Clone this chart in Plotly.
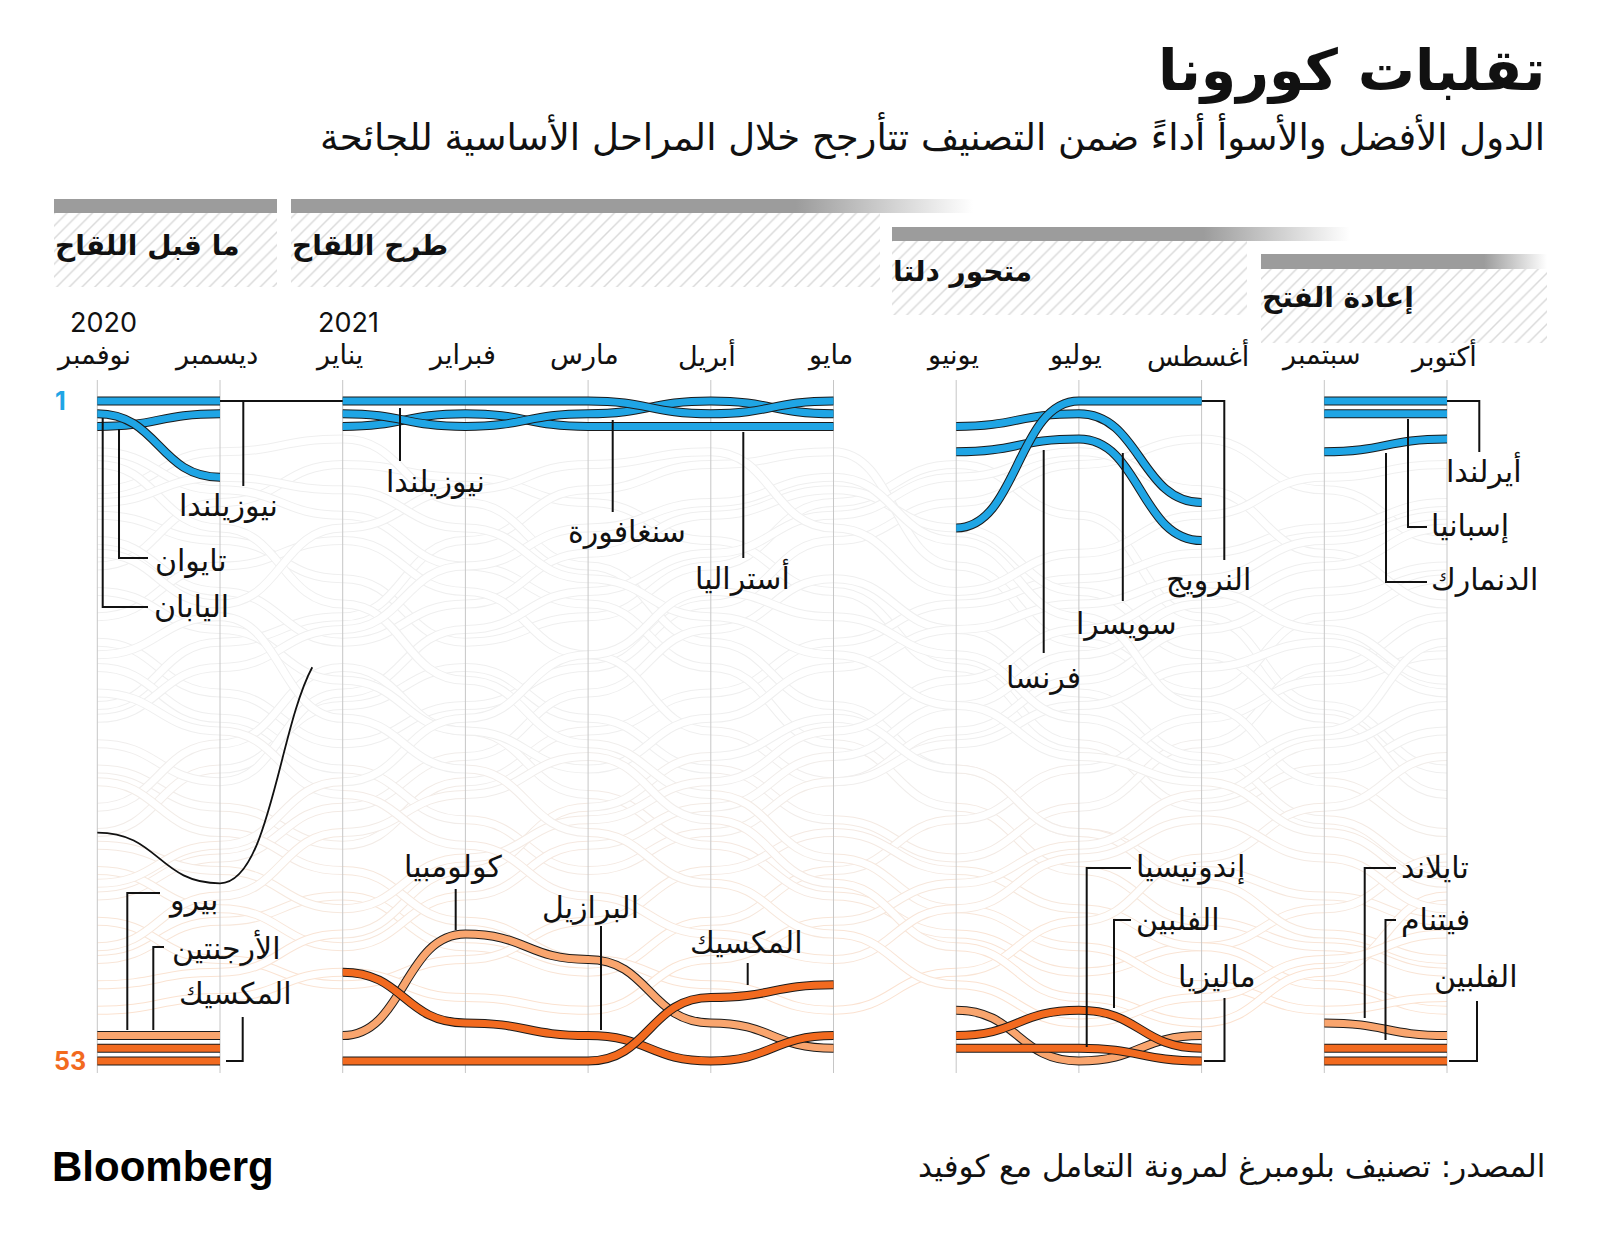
import plotly.graph_objects as go

# ---------------- DATA ----------------
months = ['نوفمبر', 'ديسمبر', 'يناير', 'فبراير', 'مارس', 'أبريل', 'مايو',
          'يونيو', 'يوليو', 'أغسطس', 'سبتمبر', 'أكتوبر']
year_labels = ['2020', '2021']
year_month_idx = [0, 2]
phase_titles = ['ما قبل اللقاح', 'طرح اللقاح', 'متحور دلتا', 'إعادة الفتح']
phase_months = [[0, 1], [2, 3, 4, 5, 6], [7, 8, 9], [10, 11]]

# best three per phase (rank, 1 = best)
p1_top_names = ['نيوزيلندا', 'اليابان', 'تايوان']
p1_top_ranks = [[1, 1], [2, 7], [3, 2]]
p2_top_names = ['نيوزيلندا', 'سنغافورة', 'أستراليا']
p2_top_ranks = [[1, 1, 1, 2, 1], [2, 3, 2, 1, 2], [3, 2, 3, 3, 3]]
p3_top_names = ['النرويج', 'سويسرا', 'فرنسا']
p3_top_ranks = [[11, 1, 1], [3, 2, 9], [5, 4, 12]]
p4_top_names = ['أيرلندا', 'إسبانيا', 'الدنمارك']
p4_top_ranks = [[1, 1], [2, 2], [5, 4]]

# worst three per phase (first one drawn in light orange)
p1_bot_names = ['بيرو', 'الأرجنتين', 'المكسيك']
p1_bot_ranks = [[51, 51], [52, 52], [53, 53]]
p2_bot_names = ['كولومبيا', 'البرازيل', 'المكسيك']
p2_bot_ranks = [[51, 43, 45, 50, 52], [46, 50, 51, 53, 51], [53, 53, 53, 48, 47]]
p3_bot_names = ['ماليزيا', 'الفلبين', 'إندونيسيا']
p3_bot_ranks = [[49, 53, 51], [51, 49, 52], [52, 52, 53]]
p4_bot_names = ['تايلاند', 'فيتنام', 'الفلبين']
p4_bot_ranks = [[50, 51], [52, 52], [53, 53]]

# black trajectory drawn from November
black_line_ranks = [35, 39, 20]

# faint trajectories of the other economies (Nov .. Oct)
other_ranks = [
    [10, 12, 15, 20, 18, 14, 9, 6, 10, 18, 25, 30],
    [14, 9, 6, 7, 9, 12, 16, 22, 28, 33, 30, 27],
    [20, 24, 28, 25, 22, 17, 12, 9, 6, 4, 8, 12],
    [25, 20, 18, 12, 8, 6, 5, 14, 20, 24, 18, 15],
    [30, 33, 36, 31, 27, 24, 20, 17, 15, 13, 11, 9],
    [8, 5, 4, 9, 14, 20, 25, 30, 35, 38, 40, 42],
    [5, 8, 10, 14, 17, 22, 28, 33, 38, 42, 44, 46],
    [35, 30, 25, 22, 26, 30, 34, 37, 33, 28, 22, 18],
    [40, 37, 33, 29, 24, 19, 15, 19, 24, 29, 34, 38],
    [45, 42, 40, 44, 46, 42, 38, 34, 30, 26, 23, 21],
    [12, 16, 20, 17, 13, 10, 8, 11, 16, 21, 26, 32],
    [18, 14, 12, 16, 21, 27, 31, 27, 23, 19, 16, 14],
    [22, 26, 30, 34, 38, 35, 31, 28, 25, 22, 20, 24],
    [28, 31, 24, 19, 16, 13, 10, 7, 5, 8, 13, 17],
    [33, 28, 22, 27, 32, 36, 40, 43, 46, 44, 41, 37],
    [38, 41, 44, 40, 36, 33, 29, 25, 21, 17, 14, 11],
    [42, 45, 47, 45, 42, 38, 35, 38, 41, 44, 47, 49],
    [47, 46, 43, 38, 33, 29, 26, 30, 35, 39, 43, 45],
    [16, 19, 23, 27, 30, 26, 22, 19, 17, 15, 12, 10],
    [6, 11, 17, 23, 28, 32, 37, 41, 44, 47, 49, 48],
    [26, 22, 19, 14, 11, 9, 7, 12, 18, 25, 31, 35],
    [31, 35, 38, 42, 45, 47, 49, 46, 42, 37, 33, 29],
    [36, 38, 41, 37, 34, 31, 27, 23, 19, 16, 19, 23],
    [49, 48, 46, 48, 49, 45, 42, 39, 36, 32, 28, 25],
    [44, 40, 35, 32, 29, 34, 39, 44, 48, 50, 46, 40],
    [13, 17, 11, 8, 6, 5, 11, 16, 13, 10, 7, 6],
    [24, 27, 32, 36, 40, 43, 45, 41, 37, 34, 37, 41],
    [9, 7, 8, 11, 15, 18, 21, 25, 29, 31, 35, 39],
    [39, 36, 31, 26, 21, 16, 18, 21, 26, 30, 27, 20],
    [21, 18, 26, 30, 35, 39, 43, 47, 50, 48, 45, 43],
]

title_text = 'تقلبات كورونا'
subtitle_text = 'الدول الأفضل والأسوأ أداءً ضمن التصنيف تتأرجح خلال المراحل الأساسية للجائحة'
source_text = 'المصدر: تصنيف بلومبرغ لمرونة التعامل مع كوفيد'
brand_text = 'Bloomberg'

# ---------------- LAYOUT GEOMETRY ----------------
W, H = 1600, 1245
PX_PER_M, X0PX = 122.7, 97.3
PX_PER_R, Y1PX = 12.692, 401.0


def X(px):
    return (px - X0PX) / PX_PER_M


def Y(py):
    return 1 + (py - Y1PX) / PX_PER_R


AR = 'DejaVu Sans'
LAT = 'Inter, Roboto, Liberation Sans, sans-serif'
BLUE = '#1fa5e5'
OR_LIGHT = '#f9a56e'
OR_DARK = '#f26a1f'
EDGE = '#1b1b1b'

shapes = []
annotations = []


def bump_path(xs, ys):
    d = 'M%.4f,%.4f' % (xs[0], ys[0])
    for i in range(1, len(xs)):
        xm = (xs[i - 1] + xs[i]) / 2
        d += ' C%.4f,%.4f %.4f,%.4f %.4f,%.4f' % (xm, ys[i - 1], xm, ys[i], xs[i], ys[i])
    return d


def add_path(d, color, width):
    shapes.append(dict(type='path', path=d, xref='x', yref='y',
                       line=dict(color=color, width=width), layer='above'))


def mix(c1, c2, t):
    a = [int(c1[i:i + 2], 16) for i in (1, 3, 5)]
    b = [int(c2[i:i + 2], 16) for i in (1, 3, 5)]
    return '#%02x%02x%02x' % tuple(int(round(a[k] + (b[k] - a[k]) * t)) for k in range(3))


# --- faint background trajectories ---
for ranks in other_ranks:
    for i in range(1, len(ranks)):
        m = (ranks[i - 1] + ranks[i]) / 2
        t = min(max((m - 28) / 20, 0), 1)
        col = mix('#efefef', '#fbe2d0', t)
        d = bump_path([i - 1, i], [ranks[i - 1], ranks[i]])
        add_path(d, col, 9)
        add_path(d, '#ffffff', 7)

# --- vertical month gridlines ---
for i in range(len(months)):
    shapes.append(dict(type='line', xref='x', yref='y', x0=i, x1=i,
                       y0=Y(380), y1=Y(1073),
                       line=dict(color='#c6c6c6', width=1), layer='above'))

# --- black trajectory (cut before January) ---
bl = black_line_ranks
add_path(bump_path([0, 1], bl[:2]), '#111111', 1.8)
t = 0.8
P0, P1, P2, P3 = (1, bl[1]), (1.5, bl[1]), (1.5, bl[2]), (2, bl[2])


def lerp(a, b, s):
    return (a[0] + (b[0] - a[0]) * s, a[1] + (b[1] - a[1]) * s)


A = lerp(P0, P1, t); B = lerp(P1, P2, t); Cc = lerp(P2, P3, t)
D = lerp(A, B, t); E = lerp(B, Cc, t); F = lerp(D, E, t)
add_path('M%.4f,%.4f C%.4f,%.4f %.4f,%.4f %.4f,%.4f' % (P0[0], P0[1], A[0], A[1], D[0], D[1], F[0], F[1]),
         '#111111', 1.8)

# --- highlighted lines ---
tops = [p1_top_ranks, p2_top_ranks, p3_top_ranks, p4_top_ranks]
bots = [p1_bot_ranks, p2_bot_ranks, p3_bot_ranks, p4_bot_ranks]
for ph, mlist in enumerate(phase_months):
    for k, ranks in enumerate(bots[ph]):
        d = bump_path(mlist, ranks)
        add_path(d, EDGE, 9)
        add_path(d, OR_LIGHT if k == 0 else OR_DARK, 7)
    for ranks in tops[ph][::-1]:
        d = bump_path(mlist, ranks)
        add_path(d, EDGE, 9)
        add_path(d, BLUE, 7)

# connector New Zealand Dec -> Jan
shapes.append(dict(type='line', xref='x', yref='y', x0=1, x1=2, y0=1, y1=1,
                   line=dict(color='#111111', width=2), layer='above'))

# --- leader lines (pixel positions) ---
leaders = [
    [(243.3, 401), (243.3, 486)],
    [(119, 429), (119, 558), (148, 558)],
    [(102.7, 418), (102.7, 607), (148, 607)],
    [(127.3, 1030), (127.3, 893), (160, 893)],
    [(153.3, 1030), (153.3, 947), (164, 947)],
    [(242.7, 1017), (242.7, 1061), (226, 1061)],
    [(400, 408), (400, 461)],
    [(612.7, 420), (612.7, 512)],
    [(743.3, 432), (743.3, 558)],
    [(455.7, 889), (455.7, 930)],
    [(601, 926), (601, 1030)],
    [(747.7, 963), (747.7, 985)],
    [(1202, 401), (1224.3, 401), (1224.3, 560)],
    [(1122.8, 453), (1122.8, 601)],
    [(1043.7, 450), (1043.7, 653)],
    [(1086.7, 1047), (1086.7, 868), (1131, 868)],
    [(1114, 1008), (1114, 920), (1131, 920)],
    [(1224.5, 998), (1224.5, 1061), (1204, 1061)],
    [(1447, 401), (1479.3, 401), (1479.3, 452)],
    [(1408, 419), (1408, 527), (1427, 527)],
    [(1386, 453), (1386, 582), (1427, 582)],
    [(1364.7, 1018), (1364.7, 868), (1396, 868)],
    [(1385.5, 1040), (1385.5, 920), (1396, 920)],
    [(1477, 1001), (1477, 1061), (1449, 1061)],
]
for pts in leaders:
    d = 'M%.4f,%.4f' % (X(pts[0][0]), Y(pts[0][1]))
    for (px, py) in pts[1:]:
        d += ' L%.4f,%.4f' % (X(px), Y(py))
    shapes.append(dict(type='path', path=d, xref='x', yref='y',
                       line=dict(color='#111111', width=2), layer='above'))

# --- labels (text, x px, y px, xanchor) ---
label_pos = [
    (p1_top_names[0], 228, 505, 'center'),
    (p1_top_names[2], 153, 560, 'left'),
    (p1_top_names[1], 152, 606, 'left'),
    (p1_bot_names[0], 166, 900, 'left'),
    (p1_bot_names[1], 170, 947, 'left'),
    (p1_bot_names[2], 235, 993, 'center'),
    (p2_top_names[0], 435, 481, 'center'),
    (p2_top_names[1], 627, 531, 'center'),
    (p2_top_names[2], 742, 577, 'center'),
    (p2_bot_names[0], 453, 866, 'center'),
    (p2_bot_names[1], 590, 907, 'center'),
    (p2_bot_names[2], 746, 942, 'center'),
    (p3_top_names[0], 1208, 580, 'center'),
    (p3_top_names[1], 1126, 623, 'center'),
    (p3_top_names[2], 1043, 677, 'center'),
    (p3_bot_names[2], 1134, 867, 'left'),
    (p3_bot_names[1], 1134, 919, 'left'),
    (p3_bot_names[0], 1216, 976, 'center'),
    (p4_top_names[0], 1484, 470, 'center'),
    (p4_top_names[1], 1429, 526, 'left'),
    (p4_top_names[2], 1429, 579, 'left'),
    (p4_bot_names[0], 1399, 867, 'left'),
    (p4_bot_names[1], 1399, 919, 'left'),
    (p4_bot_names[2], 1476, 976, 'center'),
]
for txt, px, py, xa in label_pos:
    annotations.append(dict(text=txt, x=X(px), y=Y(py), xref='x', yref='y',
                            xanchor=xa, yanchor='middle', showarrow=False,
                            font=dict(family=AR, size=30, color='#111111')))

# month & year labels
for i, m in enumerate(months):
    annotations.append(dict(text=m, x=i - 0.03, y=Y(355), xref='x', yref='y',
                            xanchor='center', yanchor='middle', showarrow=False,
                            font=dict(family=AR, size=27, color='#111111')))
for yl, mi in zip(year_labels, year_month_idx):
    annotations.append(dict(text=yl, x=mi + 0.05, y=Y(322), xref='x', yref='y',
                            xanchor='center', yanchor='middle', showarrow=False,
                            font=dict(family=LAT, size=27, color='#111111')))

# rank markers
annotations.append(dict(text='<b>1</b>', x=X(53), y=1, xref='x', yref='y', xanchor='left',
                        yanchor='middle', showarrow=False, font=dict(family=LAT, size=25, color=BLUE)))
annotations.append(dict(text='<b>53</b>', x=X(52), y=53, xref='x', yref='y', xanchor='left',
                        yanchor='middle', showarrow=False, font=dict(family=LAT, size=25, color=OR_DARK)))

# --- headers: gradient bars + hatched boxes ---
traces = []
bars = [(54, 277, 199, 213, 1.0), (291, 973, 199, 213, 0.74),
        (892, 1350, 227, 241, 0.68), (1261, 1547, 254, 269, 0.78)]
boxes = [(54, 277, 213, 287), (291, 880, 213, 287), (892, 1247, 241, 315), (1261, 1547, 269, 343)]
title_y = [245, 245, 271, 298]


def rect(x0, x1, y0, y1):
    return [X(x0), X(x1), X(x1), X(x0), X(x0)], [Y(y0), Y(y0), Y(y1), Y(y1), Y(y0)]


for (x0, x1, y0, y1) in boxes:
    xs, ys = rect(x0, x1, y0, y1)
    traces.append(go.Scatter(x=xs, y=ys, mode='lines', fill='toself', line=dict(width=0),
                             fillcolor='white',
                             fillpattern=dict(shape='/', fgcolor='#b4b4b4', bgcolor='white',
                                              size=9, solidity=0.16),
                             hoverinfo='skip', showlegend=False))
for (x0, x1, y0, y1, f) in bars:
    xs, ys = rect(x0, x1, y0, y1)
    cs = [[0, '#9c9c9c'], [f, '#9c9c9c'], [1, '#ffffff']] if f < 1 else [[0, '#9c9c9c'], [1, '#9c9c9c']]
    traces.append(go.Scatter(x=xs, y=ys, mode='lines', fill='toself', line=dict(width=0),
                             fillgradient=dict(type='horizontal', colorscale=cs),
                             hoverinfo='skip', showlegend=False))
for k, txt in enumerate(phase_titles):
    annotations.append(dict(text='<b>%s</b>' % txt, x=X(boxes[k][0] - 1), y=Y(title_y[k]),
                            xref='x', yref='y', xanchor='left', yanchor='middle', showarrow=False,
                            font=dict(family=AR, size=28, color='#111111')))

# --- title, subtitle, footer ---
annotations.append(dict(text='<b>%s</b>' % title_text, x=X(1547), y=Y(70), xref='x', yref='y',
                        xanchor='right', yanchor='middle', showarrow=False,
                        font=dict(family=AR, size=57, color='#111111')))
annotations.append(dict(text=subtitle_text, x=X(1547), y=Y(135), xref='x', yref='y',
                        xanchor='right', yanchor='middle', showarrow=False,
                        font=dict(family=AR, size=37, color='#111111')))
annotations.append(dict(text=source_text, x=X(1547), y=Y(1166), xref='x', yref='y',
                        xanchor='right', yanchor='middle', showarrow=False,
                        font=dict(family=AR, size=31, color='#111111')))
annotations.append(dict(text='<b>%s</b>' % brand_text, x=X(50), y=Y(1166), xref='x', yref='y',
                        xanchor='left', yanchor='middle', showarrow=False,
                        font=dict(family='Liberation Sans, Arial, sans-serif', size=42, color='#000000')))

fig = go.Figure(data=traces)
fig.update_layout(
    width=W, height=H, margin=dict(l=0, r=0, t=0, b=0),
    paper_bgcolor='white', plot_bgcolor='white', showlegend=False,
    xaxis=dict(range=[X(0), X(W)], visible=False, fixedrange=True),
    yaxis=dict(range=[Y(H), Y(0)], visible=False, fixedrange=True),
    shapes=shapes, annotations=annotations,
)
fig.write_html('out.html', config={'displayModeBar': False},
               post_script="document.body.style.margin='0';document.body.style.overflow='hidden';")
